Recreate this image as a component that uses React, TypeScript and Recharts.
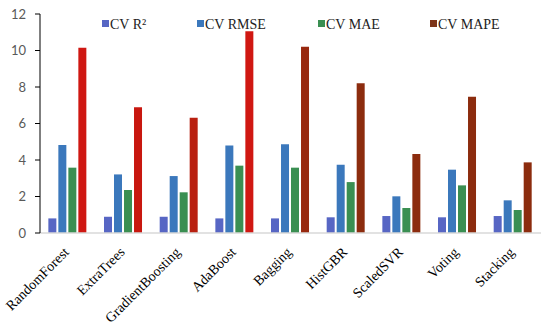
import { Bar, BarChart, Cell, Legend, XAxis, YAxis } from "recharts";

const models = ["RandomForest", "ExtraTrees", "GradientBoosting", "AdaBoost", "Bagging", "HistGBR", "ScaledSVR", "Voting", "Stacking"];
const cvR2 = [0.8, 0.89, 0.89, 0.8, 0.8, 0.86, 0.93, 0.86, 0.93];
const cvRmse = [4.82, 3.21, 3.12, 4.8, 4.86, 3.74, 2.01, 3.47, 1.79];
const cvMae = [3.58, 2.36, 2.23, 3.69, 3.58, 2.79, 1.37, 2.61, 1.26];
const cvMape = [10.15, 6.89, 6.32, 11.05, 10.21, 8.2, 4.33, 7.47, 3.87];
const yTicks = [0, 2, 4, 6, 8, 10, 12];

const data = models.map((name, i) => ({ name, r2: cvR2[i], rmse: cvRmse[i], mae: cvMae[i], mape: cvMape[i] }));

const series = [
  { key: "r2", label: "CV R²", color: "#5766C4" },
  { key: "rmse", label: "CV RMSE", color: "#3B78BC" },
  { key: "mae", label: "CV MAE", color: "#3A8F52" },
  { key: "mape", label: "CV MAPE", color: "#7E3418" },
];
const mapeColors = ["#CF1712", "#C8170F", "#B92010", "#D01812", "#98280E", "#8C2C0E", "#8C2C0E", "#8C2C0E", "#8C2C0E"];

const serif = "'Liberation Serif', 'Times New Roman', serif";

function ModelTick({ x, y, payload }: any) {
  return (
    <text x={x + 2} y={y + 12} transform={`rotate(-45 ${x + 2} ${y + 12})`} textAnchor="end" fontFamily={serif} fontSize={14} fill="#000">
      {payload.value}
    </text>
  );
}

function TopLegend() {
  const xs = [105, 200, 321, 433];
  return (
    <svg width={550} height={30} style={{ position: "absolute", left: 0, top: 10 }}>
      {series.map((s, i) => (
        <g key={s.key}>
          <rect x={xs[i] - 3} y={10} width={7} height={7} fill={s.color} />
          <text x={xs[i] + 5} y={19} fontFamily={serif} fontSize={14} fill="#222">
            {s.label}
          </text>
        </g>
      ))}
    </svg>
  );
}

export default function App() {
  return (
    <div style={{ position: "absolute", left: 0, top: 0, width: 550, height: 327, background: "#fff" }}>
      <BarChart width={550} height={327} data={data} margin={{ top: 14, right: 9, bottom: 0, left: 0 }} barCategoryGap="15%" barGap={2}>
        <XAxis dataKey="name" height={94} tickLine={false} axisLine={{ stroke: "#D9D9D9", strokeWidth: 1.5 }} tick={<ModelTick />} interval={0} />
        <YAxis
          width={40}
          domain={[0, 12]}
          ticks={yTicks}
          tickSize={5}
          tickMargin={9}
          axisLine={{ stroke: "#000" }}
          tickLine={{ stroke: "#000" }}
          tick={{ fill: "#595959", fontSize: 13, fontFamily: "Lato, 'Open Sans', sans-serif" }}
        />
        <Legend content={() => null} />
        {series.map((s) => (
          <Bar key={s.key} dataKey={s.key} name={s.label} fill={s.color} isAnimationActive={false}>
            {s.key === "mape" && data.map((d, i) => <Cell key={d.name} fill={mapeColors[i]} />)}
          </Bar>
        ))}
      </BarChart>
      <TopLegend />
    </div>
  );
}
